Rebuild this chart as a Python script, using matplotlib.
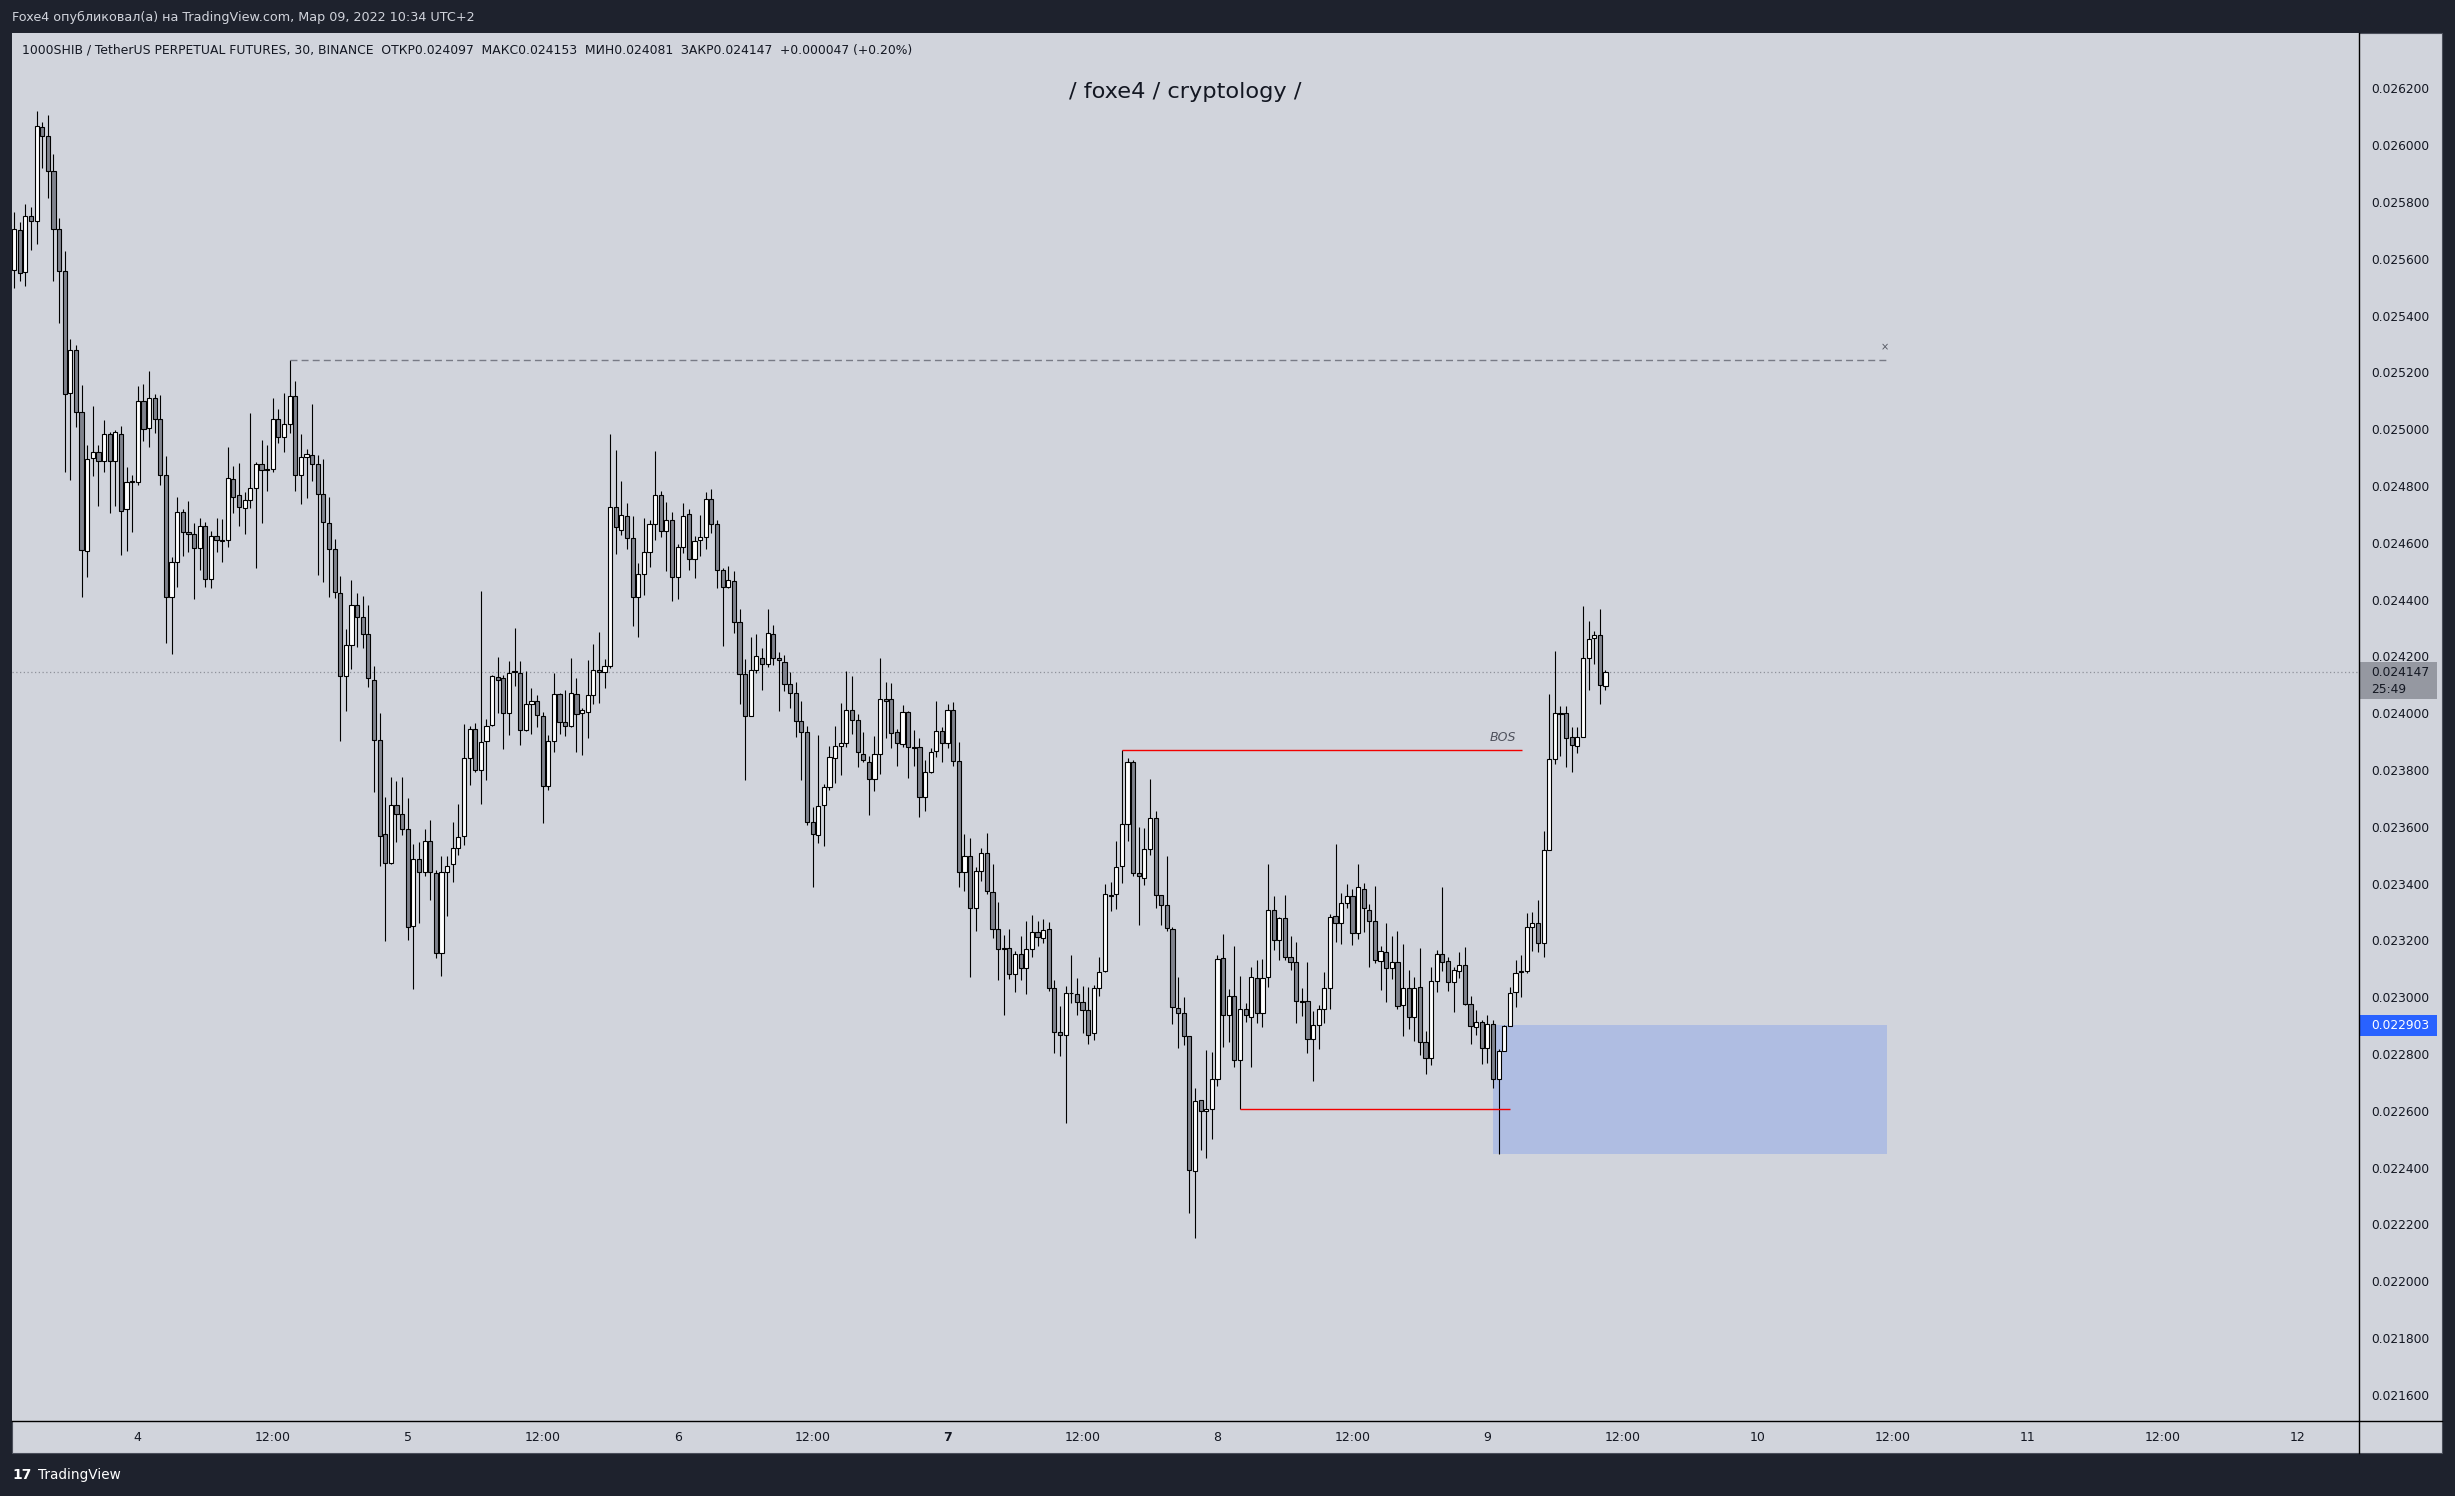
import numpy as np
import matplotlib
matplotlib.use('Agg')
import matplotlib.pyplot as plt
from matplotlib.patches import Rectangle
from matplotlib.lines import Line2D
from matplotlib import transforms

plt.rcParams['font.family'] = ['DejaVu Sans']

# Свечи 30 мин, 1000SHIBUSDT; слот 0 = 4 марта 00:00, первая свеча = слот -22
first_slot = -22

opens = [
    0.025562, 0.025701, 0.025553, 0.025752, 0.025733, 0.026063, 0.026031, 0.025908, 0.025705, 0.025557,
    0.025127, 0.025278, 0.025061, 0.024570, 0.024898, 0.024919, 0.024887, 0.024983, 0.024887, 0.024985,
    0.024718, 0.024817, 0.024813, 0.025101, 0.025004, 0.025109, 0.025035, 0.024838, 0.024409, 0.024531,
    0.024710, 0.024638, 0.024630, 0.024581, 0.024659, 0.024472, 0.024623, 0.024609, 0.024609, 0.024824,
    0.024767, 0.024723, 0.024751, 0.024795, 0.024879, 0.024859, 0.024859, 0.025035, 0.024973, 0.025020,
    0.025116, 0.024838, 0.024902, 0.024909, 0.024879, 0.024773, 0.024669, 0.024577, 0.024423, 0.024133,
    0.024240, 0.024383, 0.024339, 0.024278, 0.024119, 0.023905, 0.023574, 0.023472, 0.023676, 0.023644,
    0.023594, 0.023250, 0.023488, 0.023441, 0.023552, 0.023436, 0.023155, 0.023441, 0.023469, 0.023525,
    0.023568, 0.023841, 0.023943, 0.023800, 0.023902, 0.023960, 0.024127, 0.024124, 0.024001, 0.024148,
    0.024143, 0.023940, 0.024034, 0.024043, 0.023989, 0.023743, 0.023904, 0.024067, 0.023968, 0.023956,
    0.024067, 0.024001, 0.024006, 0.024063, 0.024153, 0.024145, 0.024165, 0.024728, 0.024647, 0.024696,
    0.024619, 0.024408, 0.024489, 0.024567, 0.024668, 0.024770, 0.024641, 0.024679, 0.024479, 0.024585,
    0.024701, 0.024542, 0.024610, 0.024622, 0.024754, 0.024668, 0.024506, 0.024443, 0.024465, 0.024320,
    0.024138, 0.023992, 0.024151, 0.024196, 0.024174, 0.024278, 0.024196, 0.024182, 0.024102, 0.024071,
    0.023973, 0.023934, 0.023616, 0.023571, 0.023676, 0.023742, 0.023843, 0.023885, 0.023894, 0.024011,
    0.023976, 0.023858, 0.023830, 0.023767, 0.023858, 0.024049, 0.024049, 0.023934, 0.023891, 0.024003,
    0.023880, 0.023880, 0.023707, 0.023792, 0.023868, 0.023937, 0.023896, 0.024011, 0.023833, 0.023441,
    0.023496, 0.023316, 0.023444, 0.023507, 0.023370, 0.023239, 0.023173, 0.023173, 0.023082, 0.023154,
    0.023102, 0.023169, 0.023230, 0.023208, 0.023239, 0.023032, 0.022877, 0.022867, 0.023016, 0.023013,
    0.022985, 0.022954, 0.022873, 0.023032, 0.023091, 0.023361, 0.023363, 0.023461, 0.023609, 0.023827,
    0.023437, 0.023419, 0.023521, 0.023633, 0.023359, 0.023324, 0.023239, 0.022964, 0.022943, 0.022863,
    0.022388, 0.022637, 0.022598, 0.022605, 0.022714, 0.023137, 0.022937, 0.023006, 0.022778, 0.022958,
    0.022931, 0.023067, 0.022943, 0.023071, 0.023306, 0.023200, 0.023278, 0.023141, 0.023124, 0.022987,
    0.022987, 0.022852, 0.022901, 0.022958, 0.023032, 0.023285, 0.023263, 0.023333, 0.023358, 0.023226,
    0.023383, 0.023309, 0.023270, 0.023127, 0.023158, 0.023102, 0.023126, 0.022974, 0.023032, 0.022929,
    0.023036, 0.022844, 0.022788, 0.023056, 0.023152, 0.023129, 0.023055, 0.023091, 0.023115, 0.022978,
    0.022896, 0.022912, 0.022821, 0.022906, 0.022711, 0.022812, 0.022900, 0.023018, 0.023091, 0.023091,
    0.023246, 0.023263, 0.023192, 0.023517, 0.023839, 0.024002, 0.024002, 0.023916, 0.023886, 0.023917,
    0.024196, 0.024265, 0.024274, 0.024097,
]

highs = [
    0.025765, 0.025730, 0.025795, 0.025783, 0.026121, 0.026082, 0.026105, 0.025969, 0.025744, 0.025628,
    0.025318, 0.025297, 0.025155, 0.024945, 0.025082, 0.024946, 0.025032, 0.024990, 0.024996, 0.025010,
    0.024867, 0.024838, 0.025152, 0.025158, 0.025205, 0.025123, 0.025121, 0.024907, 0.024549, 0.024763,
    0.024721, 0.024748, 0.024670, 0.024686, 0.024674, 0.024643, 0.024689, 0.024683, 0.024939, 0.024871,
    0.024883, 0.024780, 0.025058, 0.024886, 0.024962, 0.024946, 0.025111, 0.025070, 0.025128, 0.025243,
    0.025169, 0.024985, 0.024929, 0.025090, 0.024910, 0.024896, 0.024762, 0.024612, 0.024484, 0.024296,
    0.024469, 0.024423, 0.024412, 0.024382, 0.024166, 0.024000, 0.023707, 0.023775, 0.023762, 0.023775,
    0.023702, 0.023539, 0.023548, 0.023591, 0.023623, 0.023449, 0.023499, 0.023499, 0.023618, 0.023681,
    0.023962, 0.023956, 0.023966, 0.024429, 0.023979, 0.024136, 0.024198, 0.024136, 0.024185, 0.024299,
    0.024185, 0.024148, 0.024088, 0.024063, 0.024006, 0.023925, 0.024143, 0.024073, 0.024082, 0.024194,
    0.024125, 0.024020, 0.024189, 0.024243, 0.024285, 0.024192, 0.024983, 0.024928, 0.024817, 0.024739,
    0.024696, 0.024530, 0.024688, 0.024682, 0.024924, 0.024784, 0.024745, 0.024709, 0.024597, 0.024740,
    0.024720, 0.024624, 0.024698, 0.024778, 0.024790, 0.024682, 0.024510, 0.024519, 0.024501, 0.024368,
    0.024192, 0.024269, 0.024280, 0.024229, 0.024368, 0.024311, 0.024217, 0.024207, 0.024144, 0.024110,
    0.024044, 0.023957, 0.023670, 0.023924, 0.023751, 0.023885, 0.023956, 0.024036, 0.024149, 0.024132,
    0.023998, 0.023934, 0.023849, 0.023920, 0.024196, 0.024110, 0.024105, 0.023946, 0.024028, 0.024008,
    0.023940, 0.023912, 0.023836, 0.023877, 0.024044, 0.023953, 0.024031, 0.024039, 0.023898, 0.023575,
    0.023561, 0.023459, 0.023525, 0.023579, 0.023470, 0.023336, 0.023219, 0.023240, 0.023163, 0.023216,
    0.023268, 0.023290, 0.023270, 0.023276, 0.023266, 0.023062, 0.022968, 0.023040, 0.023148, 0.023067,
    0.023040, 0.023036, 0.023043, 0.023142, 0.023399, 0.023407, 0.023550, 0.023870, 0.023843, 0.023836,
    0.023599, 0.023595, 0.023769, 0.023656, 0.023359, 0.023498, 0.023249, 0.023072, 0.023000, 0.022863,
    0.022680, 0.022637, 0.022815, 0.022808, 0.023148, 0.023223, 0.023029, 0.023181, 0.023076, 0.022980,
    0.023108, 0.023131, 0.023136, 0.023470, 0.023356, 0.023282, 0.023361, 0.023216, 0.023194, 0.023034,
    0.023126, 0.022951, 0.022974, 0.023088, 0.023293, 0.023540, 0.023367, 0.023398, 0.023381, 0.023471,
    0.023401, 0.023327, 0.023391, 0.023179, 0.023261, 0.023216, 0.023235, 0.023187, 0.023095, 0.023072,
    0.023173, 0.022883, 0.023106, 0.023165, 0.023389, 0.023142, 0.023108, 0.023160, 0.023176, 0.023003,
    0.022956, 0.022920, 0.022937, 0.022920, 0.022819, 0.022902, 0.023037, 0.023133, 0.023149, 0.023297,
    0.023301, 0.023344, 0.023584, 0.024068, 0.024219, 0.024027, 0.024025, 0.023951, 0.023951, 0.024378,
    0.024324, 0.024290, 0.024367, 0.024153,
]

lows = [
    0.025496, 0.025522, 0.025503, 0.025631, 0.025651, 0.025919, 0.025815, 0.025522, 0.025373, 0.024849,
    0.024821, 0.025007, 0.024409, 0.024479, 0.024834, 0.024729, 0.024848, 0.024705, 0.024729, 0.024559,
    0.024570, 0.024638, 0.024805, 0.024960, 0.024939, 0.024987, 0.024805, 0.024248, 0.024208, 0.024444,
    0.024555, 0.024569, 0.024403, 0.024506, 0.024444, 0.024441, 0.024569, 0.024531, 0.024586, 0.024704,
    0.024659, 0.024630, 0.024724, 0.024512, 0.024669, 0.024782, 0.024849, 0.024950, 0.024919, 0.024987,
    0.024782, 0.024736, 0.024758, 0.024818, 0.024487, 0.024464, 0.024411, 0.024406, 0.023902, 0.024009,
    0.024157, 0.024234, 0.024231, 0.024093, 0.023722, 0.023461, 0.023197, 0.023469, 0.023548, 0.023571,
    0.023201, 0.023030, 0.023262, 0.023426, 0.023342, 0.023137, 0.023076, 0.023288, 0.023406, 0.023502,
    0.023537, 0.023749, 0.023792, 0.023679, 0.023766, 0.023954, 0.024000, 0.023873, 0.023925, 0.024095,
    0.023887, 0.023938, 0.023927, 0.023950, 0.023612, 0.023731, 0.023864, 0.023927, 0.023921, 0.023950,
    0.023864, 0.023852, 0.023914, 0.024034, 0.024037, 0.024088, 0.024160, 0.024562, 0.024629, 0.024580,
    0.024308, 0.024267, 0.024415, 0.024514, 0.024611, 0.024622, 0.024500, 0.024394, 0.024401, 0.024566,
    0.024506, 0.024475, 0.024553, 0.024577, 0.024636, 0.024440, 0.024236, 0.024440, 0.024281, 0.024034,
    0.023764, 0.023992, 0.024143, 0.024082, 0.024163, 0.024170, 0.024008, 0.024078, 0.024019, 0.023918,
    0.023764, 0.023605, 0.023390, 0.023545, 0.023531, 0.023731, 0.023756, 0.023784, 0.023883, 0.023927,
    0.023810, 0.023827, 0.023643, 0.023726, 0.023788, 0.023912, 0.023879, 0.023816, 0.023883, 0.023773,
    0.023814, 0.023634, 0.023656, 0.023789, 0.023846, 0.023830, 0.023877, 0.023814, 0.023387, 0.023375,
    0.023073, 0.023234, 0.023411, 0.023362, 0.023210, 0.023062, 0.022939, 0.023066, 0.023020, 0.023062,
    0.023013, 0.023142, 0.023182, 0.023191, 0.023023, 0.022805, 0.022794, 0.022559, 0.022979, 0.022936,
    0.022876, 0.022837, 0.022848, 0.023006, 0.023088, 0.023304, 0.023310, 0.023403, 0.023552, 0.023428,
    0.023253, 0.023397, 0.023500, 0.023316, 0.023253, 0.023232, 0.022907, 0.022823, 0.022831, 0.022239,
    0.022152, 0.022461, 0.022435, 0.022502, 0.022689, 0.022826, 0.022844, 0.022754, 0.022606, 0.022912,
    0.022754, 0.022909, 0.022894, 0.023037, 0.023166, 0.023130, 0.023130, 0.023097, 0.022910, 0.022933,
    0.022803, 0.022704, 0.022819, 0.022910, 0.022958, 0.023196, 0.023187, 0.023315, 0.023183, 0.023205,
    0.023230, 0.023106, 0.023122, 0.023024, 0.022983, 0.023065, 0.022960, 0.022862, 0.022890, 0.022846,
    0.022798, 0.022731, 0.022761, 0.023020, 0.023092, 0.023021, 0.022947, 0.023068, 0.022974, 0.022836,
    0.022866, 0.022766, 0.022769, 0.022680, 0.022448, 0.022812, 0.022900, 0.022967, 0.023001, 0.023084,
    0.023162, 0.023160, 0.023142, 0.023517, 0.023820, 0.023850, 0.023812, 0.023792, 0.023860, 0.023917,
    0.024081, 0.024173, 0.024032, 0.024081,
]

closes = [
    0.025704, 0.025550, 0.025752, 0.025733, 0.026067, 0.026032, 0.025908, 0.025705, 0.025557, 0.025124,
    0.025278, 0.025061, 0.024574, 0.024894, 0.024919, 0.024887, 0.024983, 0.024887, 0.024989, 0.024712,
    0.024813, 0.024814, 0.025098, 0.025000, 0.025109, 0.025035, 0.024838, 0.024409, 0.024531, 0.024710,
    0.024638, 0.024630, 0.024581, 0.024659, 0.024472, 0.024623, 0.024609, 0.024608, 0.024829, 0.024762,
    0.024727, 0.024751, 0.024793, 0.024879, 0.024857, 0.024857, 0.025035, 0.024973, 0.025020, 0.025116,
    0.024838, 0.024902, 0.024913, 0.024879, 0.024773, 0.024673, 0.024577, 0.024426, 0.024131, 0.024240,
    0.024383, 0.024339, 0.024278, 0.024124, 0.023905, 0.023568, 0.023472, 0.023676, 0.023644, 0.023594,
    0.023246, 0.023488, 0.023441, 0.023552, 0.023441, 0.023155, 0.023441, 0.023464, 0.023525, 0.023566,
    0.023841, 0.023943, 0.023800, 0.023898, 0.023956, 0.024130, 0.024119, 0.024001, 0.024143, 0.024145,
    0.023940, 0.024032, 0.024043, 0.023994, 0.023743, 0.023904, 0.024067, 0.023968, 0.023956, 0.024070,
    0.023997, 0.024011, 0.024063, 0.024153, 0.024145, 0.024165, 0.024728, 0.024655, 0.024699, 0.024619,
    0.024408, 0.024489, 0.024567, 0.024668, 0.024770, 0.024641, 0.024679, 0.024479, 0.024585, 0.024693,
    0.024542, 0.024605, 0.024622, 0.024754, 0.024668, 0.024506, 0.024443, 0.024468, 0.024320, 0.024138,
    0.023989, 0.024154, 0.024201, 0.024174, 0.024284, 0.024196, 0.024187, 0.024104, 0.024071, 0.023973,
    0.023934, 0.023616, 0.023575, 0.023673, 0.023742, 0.023846, 0.023885, 0.023894, 0.024011, 0.023976,
    0.023863, 0.023835, 0.023770, 0.023858, 0.024049, 0.024045, 0.023929, 0.023894, 0.024003, 0.023880,
    0.023877, 0.023704, 0.023792, 0.023863, 0.023937, 0.023896, 0.024011, 0.023833, 0.023442, 0.023496,
    0.023316, 0.023444, 0.023507, 0.023374, 0.023239, 0.023170, 0.023169, 0.023082, 0.023154, 0.023102,
    0.023169, 0.023230, 0.023211, 0.023236, 0.023032, 0.022877, 0.022867, 0.023016, 0.023014, 0.022982,
    0.022954, 0.022869, 0.023031, 0.023088, 0.023363, 0.023358, 0.023458, 0.023609, 0.023827, 0.023437,
    0.023427, 0.023521, 0.023630, 0.023359, 0.023324, 0.023243, 0.022966, 0.022946, 0.022863, 0.022392,
    0.022634, 0.022598, 0.022605, 0.022714, 0.023134, 0.022937, 0.023006, 0.022778, 0.022958, 0.022937,
    0.023071, 0.022943, 0.023067, 0.023306, 0.023200, 0.023278, 0.023141, 0.023124, 0.022986, 0.022984,
    0.022852, 0.022901, 0.022958, 0.023032, 0.023282, 0.023261, 0.023333, 0.023358, 0.023226, 0.023387,
    0.023313, 0.023270, 0.023133, 0.023162, 0.023102, 0.023126, 0.022971, 0.023032, 0.022929, 0.023032,
    0.022844, 0.022788, 0.023056, 0.023152, 0.023126, 0.023055, 0.023095, 0.023115, 0.022978, 0.022900,
    0.022912, 0.022821, 0.022906, 0.022711, 0.022812, 0.022900, 0.023014, 0.023084, 0.023088, 0.023246,
    0.023263, 0.023192, 0.023517, 0.023839, 0.024002, 0.023999, 0.023913, 0.023887, 0.023917, 0.024196,
    0.024263, 0.024274, 0.024099, 0.024147,
]

time_ticks = [0, 24, 48, 72, 96, 120, 144, 168, 192, 216, 240, 264, 288, 312, 336, 360, 384]
time_labels = ['4', '12:00', '5', '12:00', '6', '12:00', '7', '12:00', '8',
               '12:00', '9', '12:00', '10', '12:00', '11', '12:00', '12']
price_ticks = [0.0216, 0.0218, 0.0220, 0.0222, 0.0224, 0.0226, 0.0228, 0.0230,
               0.0232, 0.0234, 0.0236, 0.0238, 0.0240, 0.0242, 0.0244, 0.0246,
               0.0248, 0.0250, 0.0252, 0.0254, 0.0256, 0.0258, 0.0260, 0.0262]

# разметка автора
last_price = 0.024147
countdown = '25:49'
high_line = (27, 311.6, 0.025243)     # пунктир от максимума
bos_line = (175, 246.1, 0.023870)
low_line = (196, 244.0, 0.022606)
zone = (241.0, 311.0, 0.022448, 0.022903)

W, H = 2455, 1496
fig = plt.figure(figsize=(W / 100, H / 100), dpi=100)
fig.patch.set_facecolor('#1e222d')


def fx(px):
    return px / W


def fy(py):
    return 1 - py / H


# светлая панель с осями
fig.add_artist(Rectangle((fx(12), fy(1453)), fx(2442) - fx(12), fy(33) - fy(1453),
                         facecolor='#d1d4dc', edgecolor='#4a4e5a', lw=0.8, zorder=0))

ax = fig.add_axes([fx(12.3), fy(1421), fx(2359) - fx(12.3), fy(33) - fy(1421)])
ax.set_facecolor('#d1d4dc')
for s in ax.spines.values():
    s.set_visible(False)

o = np.array(opens)
h = np.array(highs)
l = np.array(lows)
c = np.array(closes)
x = np.arange(len(o)) + first_slot
up = c >= o

ax.vlines(x, l, h, color='black', lw=0.8, zorder=2)
body_low = np.minimum(o, c)
body_h = np.maximum(np.abs(c - o), 0.0000025)
ax.bar(x[up], body_h[up], 0.74, bottom=body_low[up], color='white',
       edgecolor='black', lw=0.8, zorder=3)
ax.bar(x[~up], body_h[~up], 0.74, bottom=body_low[~up], color='#80838d',
       edgecolor='black', lw=0.8, zorder=3)

# линии и зона
ax.hlines(high_line[2], high_line[0], high_line[1], color='#787b86', lw=1,
          linestyles=(0, (5, 3)), zorder=4)
ax.text(high_line[1] - 0.9, high_line[2] + 0.000045, '×', fontsize=7,
        color='#50535e', ha='center', va='center')
ax.hlines(bos_line[2], bos_line[0], bos_line[1], color='#f20000', lw=1, zorder=4)
ax.text(242.8, bos_line[2] + 0.000022, 'BOS', fontsize=9, style='italic',
        color='#50535e', ha='center', va='bottom')
ax.hlines(low_line[2], low_line[0], low_line[1], color='#f20000', lw=1, zorder=4)
ax.add_patch(Rectangle((zone[0], zone[2]), zone[1] - zone[0], zone[3] - zone[2],
                       facecolor='#2962ff', alpha=0.2, edgecolor='none', zorder=1))
ax.axhline(last_price, color='#8f929b', lw=0.9, ls=(0, (1, 2)), zorder=1)

ax.set_xlim(-22.32, 395.0)
ax.set_ylim(0.0215081, 0.0263954)

ax.yaxis.tick_right()
ax.set_yticks(price_ticks)
ax.set_yticklabels([f'{p:.6f}' for p in price_ticks])
ax.tick_params(axis='y', length=0, pad=8.6, labelsize=8.8, colors='#131722')
ax.set_xticks(time_ticks)
ax.set_xticklabels(time_labels)
ax.tick_params(axis='x', length=0, pad=7, labelsize=9, colors='#131722')
for lab in ax.get_xticklabels():
    if lab.get_text() == '7':
        lab.set_fontweight('bold')

# метки цены на шкале
blend = transforms.blended_transform_factory(fig.transFigure, ax.transData)
ax.add_patch(Rectangle((fx(2359), last_price - 0.0000966), fx(2437) - fx(2359), 0.0001302,
                       transform=blend, facecolor='#9598a1', edgecolor='none',
                       clip_on=False, zorder=6))
ax.text(fx(2371), last_price - 0.000004, f'{last_price:.6f}', transform=blend, fontsize=8.8,
        color='#131722', va='center', clip_on=False, zorder=7)
ax.text(fx(2371), last_price - 0.0000635, countdown, transform=blend, fontsize=8.8,
        color='#131722', va='center', clip_on=False, zorder=7)
ax.add_patch(Rectangle((fx(2359), zone[3] - 0.000041), fx(2437) - fx(2359), 0.000074,
                       transform=blend, facecolor='#2962ff', edgecolor='none',
                       clip_on=False, zorder=6))
ax.text(fx(2371), zone[3] - 0.000004, f'{zone[3]:.6f}', transform=blend, fontsize=8.8,
        color='white', va='center', clip_on=False, zorder=7)

# рамки шкал
fig.add_artist(Line2D([fx(12), fx(2442)], [fy(1421), fy(1421)], color='black', lw=1))
fig.add_artist(Line2D([fx(2359), fx(2359)], [fy(33), fy(1453)], color='black', lw=1))

# тексты
fig.text(fx(12), fy(17), 'Foxe4 опубликовал(а) на TradingView.com, Мар 09, 2022 10:34 UTC+2',
         fontsize=9.2, color='#d1d4dc', va='center')
fig.text(fx(22), fy(50),
         '1000SHIB / TetherUS PERPETUAL FUTURES, 30, BINANCE  ОТКР0.024097  МАКС0.024153  '
         'МИН0.024081  ЗАКР0.024147  +0.000047 (+0.20%)',
         fontsize=8.9, color='#131722', va='center')
fig.text(fx(1185.5), fy(92), '/ foxe4 / cryptology /', fontsize=16.2, color='#131722',
         ha='center', va='center')
fig.text(fx(12), fy(1475), '17', fontsize=10, fontweight='bold', color='white', va='center')
fig.text(fx(38), fy(1475), 'TradingView', fontsize=9.8, color='white', va='center')

fig.savefig('out.png', dpi=100, facecolor=fig.get_facecolor())
